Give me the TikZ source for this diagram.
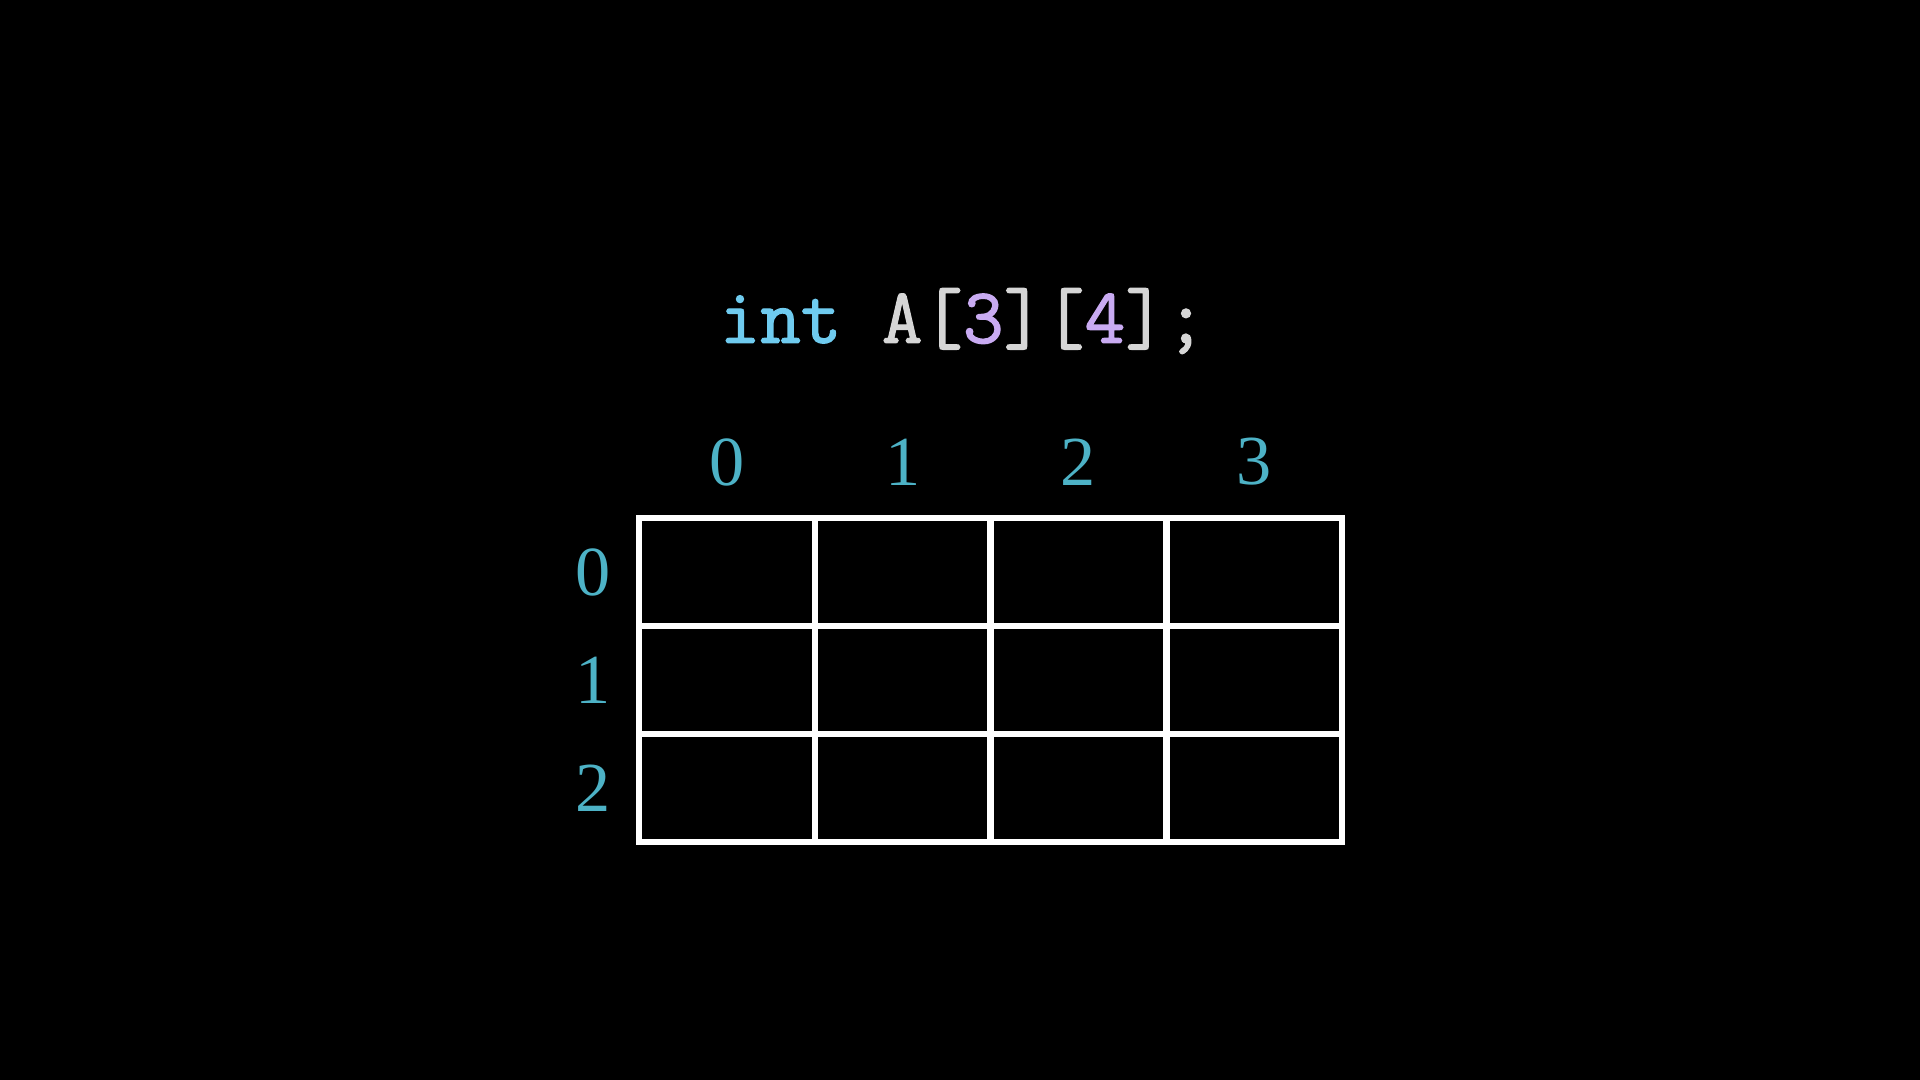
\documentclass[tikz,border=0pt]{standalone}
\usepackage{fontspec}
\setmainfont{Liberation Serif}
\newfontfamily\codefont{Latin Modern Mono}[FakeBold=1.6]
\usetikzlibrary{positioning}

\definecolor{keyblue}{HTML}{6FCBEF}
\definecolor{codegray}{HTML}{D6D6D6}
\definecolor{dimpurple}{HTML}{C9ABF2}
\definecolor{indexteal}{HTML}{4DB2C6}

\tikzset{
    cell/.style={draw=white, line width=1.8pt, minimum width=1.758cm, minimum height=1.08cm, inner sep=0pt},
    index/.style={text=indexteal, font=\fontsize{20}{24}\selectfont, inner sep=0pt}
}

\begin{document}
\begin{tikzpicture}
            \fill[black] (0,0) rectangle (19.2,-10.8);
            \useasboundingbox (0,0) rectangle (19.2,-10.8);

            \node[font=\codefont\fontsize{22.4}{27}\selectfont, inner sep=0pt] (Decl) at (9.63,-3.21)
                {\textcolor{keyblue}{int} \textcolor{codegray}{A[}\textcolor{dimpurple}{3}\textcolor{codegray}{][}\textcolor{dimpurple}{4}\textcolor{codegray}{];}};

            \node[cell] (A00) at (7.269,-5.72) {};
            \node[cell] (A01) at (9.027,-5.72) {};
            \node[cell] (A02) at (10.785,-5.72) {};
            \node[cell] (A03) at (12.543,-5.72) {};
            \node[cell] (A10) at (7.269,-6.80) {};
            \node[cell] (A11) at (9.027,-6.80) {};
            \node[cell] (A12) at (10.785,-6.80) {};
            \node[cell] (A13) at (12.543,-6.80) {};
            \node[cell] (A20) at (7.269,-7.88) {};
            \node[cell] (A21) at (9.027,-7.88) {};
            \node[cell] (A22) at (10.785,-7.88) {};
            \node[cell] (A23) at (12.543,-7.88) {};

            \node[index] (Col0) at (7.269,-4.62) {0};
            \node[index] (Col1) at (9.027,-4.62) {1};
            \node[index] (Col2) at (10.785,-4.62) {2};
            \node[index] (Col3) at (12.543,-4.62) {3};

            \node[index] (Row0) at (5.93,-5.72) {0};
            \node[index] (Row1) at (5.93,-6.80) {1};
            \node[index] (Row2) at (5.93,-7.88) {2};
        \end{tikzpicture}
\end{document}
